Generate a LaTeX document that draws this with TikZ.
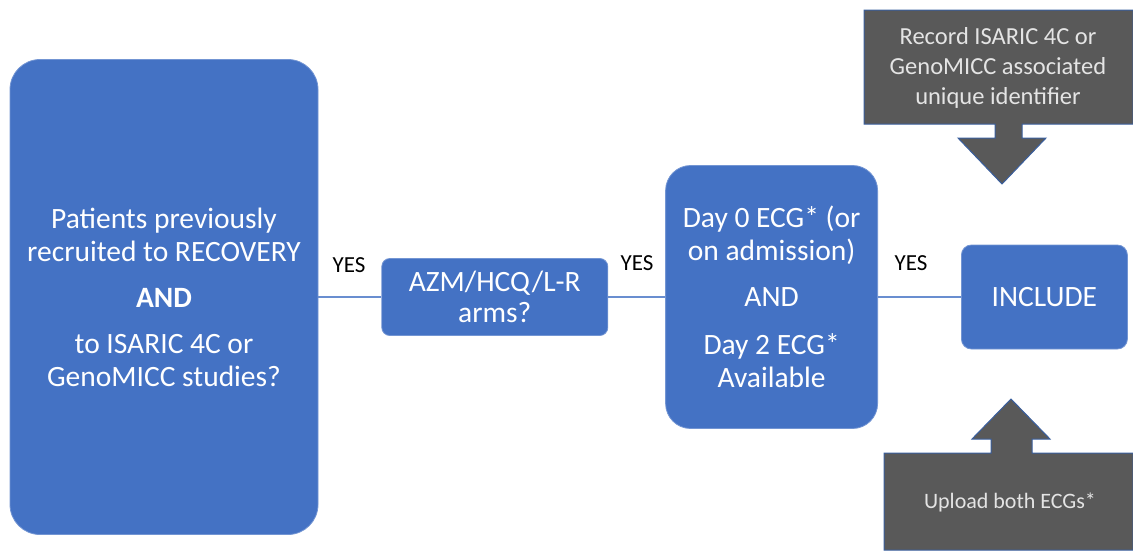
\documentclass[tikz,border=0pt]{standalone}
\usepackage{fontspec}
\setmainfont{Carlito}
\usetikzlibrary{positioning}

\definecolor{boxblue}{HTML}{4472C4}
\definecolor{calloutgrey}{HTML}{595959}
\definecolor{calloutedge}{HTML}{3A5F9E}
\definecolor{callouttext}{HTML}{E4E4E4}

\tikzset{
  flowbox/.style={fill=boxblue, draw=boxblue!75!white, line width=0.8pt,
    text=white, align=center, inner sep=0pt,
    font=\fontsize{29.5}{33}\selectfont},
  yeslabel/.style={font=\fontsize{23}{26}\selectfont},
  link/.style={draw=boxblue!80!white, line width=1.4pt},
  callout/.style={fill=calloutgrey, draw=calloutedge, line width=1pt},
  callouttxt/.style={text=callouttext, align=center},
}

\begin{document}
\begin{tikzpicture}[x=1pt, y=-1pt]
\useasboundingbox (0,0) rectangle (1133,550);

\node[flowbox, minimum width=308pt, minimum height=475pt, rounded corners=30pt]
  (patients) at (164,297) {Patients previously\\recruited to RECOVERY\\[13pt]
  \textbf{AND}\\[13pt]to ISARIC 4C or\\GenoMICC studies?};
\node[flowbox, right=63pt of patients, minimum width=226pt, minimum height=77pt,
  rounded corners=8pt, font=\fontsize{29.5}{31}\selectfont]
  (arms) {AZM/HCQ/L-R\\arms?};
\node[flowbox, right=57pt of arms, minimum width=212pt, minimum height=263pt,
  rounded corners=25pt] (ecg) {Day 0 ECG* (or\\on admission)\\[13pt]
  AND\\[15pt]Day 2 ECG*\\Available};
\node[flowbox, right=83pt of ecg, minimum width=166pt, minimum height=104pt,
  rounded corners=10pt] (include) {INCLUDE};

\node[yeslabel] (yes1) at (349,265) {YES};
\node[yeslabel] (yes2) at (637,263) {YES};
\node[yeslabel] (yes3) at (911,263) {YES};

\draw[link] (patients) -- (arms);
\draw[link] (arms) -- (ecg);
\draw[link] (ecg) -- (include);

% callouts
\path[callout] (864,10) -- (1133,10) -- (1133,124) -- (1022,124) -- (1022,138)
  -- (1046,138) -- (1002,184) -- (958,138) -- (995,138) -- (995,124)
  -- (864,124) -- cycle;
\node[callouttxt, font=\fontsize{24.5}{30}\selectfont] (record) at (998,68)
  {Record ISARIC 4C or\\GenoMICC associated\\unique identifier};

\path[callout] (884,453) -- (991,453) -- (991,439) -- (972,439) -- (1011,399)
  -- (1050,439) -- (1032,439) -- (1032,453) -- (1133,453) -- (1133,550)
  -- (884,550) -- cycle;
\node[callouttxt, font=\fontsize{22}{25}\selectfont] (upload) at (1010,502)
  {Upload both ECGs*};
\end{tikzpicture}
\end{document}
